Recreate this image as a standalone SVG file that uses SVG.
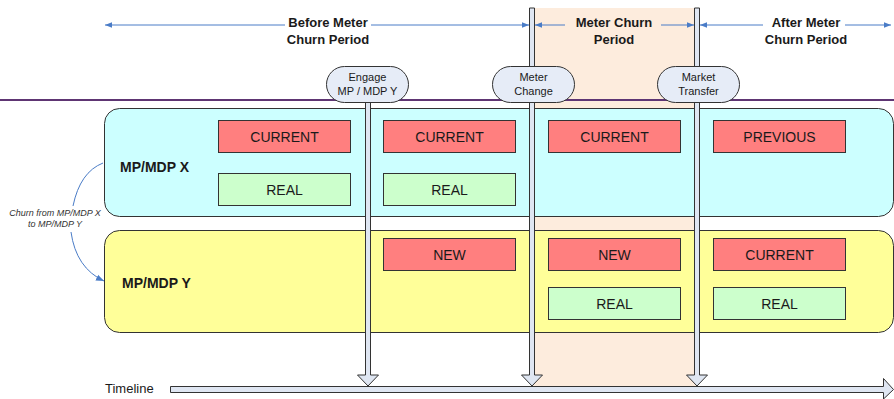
<svg xmlns="http://www.w3.org/2000/svg" width="894" height="399" viewBox="0 0 894 399">
<style>
text{font-family:"Liberation Sans",Arial,sans-serif;fill:#1a1a1a}
.hd{font-size:13px;font-weight:bold;text-anchor:middle}
.bx{font-size:14px;text-anchor:middle}
.lb{font-size:11px;text-anchor:middle}
.red{fill:#ff7f7f;stroke:#333;stroke-width:1}
.grn{fill:#ccffcc;stroke:#333;stroke-width:1}
.pole{fill:#dfe6f2;stroke:#333;stroke-width:1}
.stad{fill:#e6ecf7;stroke:#333;stroke-width:1}
.dim{stroke:#4a7cc7;stroke-width:1;fill:none}
</style>
<defs>
<marker id="ah" viewBox="0 0 10 10" refX="10" refY="5" markerWidth="7" markerHeight="7" orient="auto-start-reverse" markerUnits="userSpaceOnUse">
<path d="M0,1 L10,5 L0,9 z" fill="#4a7cc7"/>
</marker>
<marker id="ah2" viewBox="0 0 10 10" refX="10" refY="5" markerWidth="8" markerHeight="8" orient="auto" markerUnits="userSpaceOnUse">
<path d="M0,1 L10,5 L0,9 z" fill="#4a7cc7"/>
</marker>
</defs>
<rect width="894" height="399" fill="#fff"/>
<g id="churn-period-bg"><rect x="532" y="8" width="165" height="378" fill="#fdecdd"/></g>
<g id="divider"><line x1="0" y1="100" x2="894" y2="100" stroke="#5e3573" stroke-width="2"/></g>
<g id="mpx">
<rect x="104.5" y="108.5" width="789" height="108" rx="15" fill="#ccffff" stroke="#333"/>
<text x="120" y="172" style="font-size:14px;font-weight:bold">MP/MDP X</text>
</g>
<g id="mpy">
<rect x="104.5" y="230.5" width="789" height="102" rx="15" fill="#ffff99" stroke="#333"/>
<text x="122" y="288" style="font-size:14px;font-weight:bold">MP/MDP Y</text>
</g>
<g id="connectors">
<line class="dim" x1="105" y1="25" x2="285" y2="25" marker-start="url(#ah)"/>
<line class="dim" x1="371" y1="25" x2="529" y2="25" marker-end="url(#ah)"/>
<line class="dim" x1="535" y1="25" x2="565" y2="25" marker-start="url(#ah)"/>
<line class="dim" x1="661" y1="25" x2="694" y2="25" marker-end="url(#ah)"/>
<line class="dim" x1="700" y1="25" x2="763" y2="25" marker-start="url(#ah)"/>
<line class="dim" x1="845" y1="25" x2="891" y2="25" marker-end="url(#ah)"/>
<path class="dim" d="M103,163 Q80,172 73,206"/>
<path class="dim" d="M71,232 Q76,268 104,281" marker-end="url(#ah2)"/>
<path class="pole" d="M365.5,102 V375 H357.5 L368,386 L378.5,375 H370.5 V102 Z"/>
<path class="pole" d="M529.5,8 V375 H521.5 L532,386 L542.5,375 H534.5 V8 Z"/>
<path class="pole" d="M694.5,8 V375 H686.5 L697,386 L707.5,375 H699.5 V8 Z"/>
<path class="pole" d="M170.5,386.5 H883.5 V378.5 L893.5,389.5 L883.5,399 V392.5 H170.5 Z"/>
</g>
<g id="period-labels">
<text class="hd" x="328" y="27">Before Meter</text>
<text class="hd" x="328" y="44">Churn Period</text>
<text class="hd" x="614" y="27">Meter Churn</text>
<text class="hd" x="614" y="44">Period</text>
<text class="hd" x="806" y="27">After Meter</text>
<text class="hd" x="806" y="44">Churn Period</text>
</g>
<g id="engage">
<rect class="stad" x="326.5" y="66.5" width="82" height="36" rx="18"/>
<text class="lb" x="367.5" y="81">Engage</text>
<text class="lb" x="367.5" y="95">MP / MDP Y</text>
</g>
<g id="meter-change">
<rect class="stad" x="492.5" y="66.5" width="82" height="36" rx="18"/>
<text class="lb" x="533.5" y="81">Meter</text>
<text class="lb" x="533.5" y="95">Change</text>
</g>
<g id="market-transfer">
<rect class="stad" x="657.5" y="66.5" width="82" height="36" rx="18"/>
<text class="lb" x="698.5" y="81">Market</text>
<text class="lb" x="698.5" y="95">Transfer</text>
</g>
<g id="x-boxes">
<rect class="red" x="218.5" y="120.5" width="132" height="32"/><text class="bx" x="284.5" y="141.5">CURRENT</text>
<rect class="grn" x="218.5" y="173.5" width="132" height="32"/><text class="bx" x="284.5" y="194.5">REAL</text>
<rect class="red" x="383.5" y="120.5" width="132" height="32"/><text class="bx" x="449.5" y="141.5">CURRENT</text>
<rect class="grn" x="383.5" y="173.5" width="132" height="32"/><text class="bx" x="449.5" y="194.5">REAL</text>
<rect class="red" x="548.5" y="120.5" width="132" height="32"/><text class="bx" x="614.5" y="141.5">CURRENT</text>
<rect class="red" x="713.5" y="120.5" width="132" height="32"/><text class="bx" x="779.5" y="141.5">PREVIOUS</text>
</g>
<g id="y-boxes">
<rect class="red" x="383.5" y="238.5" width="132" height="32"/><text class="bx" x="449.5" y="259.5">NEW</text>
<rect class="red" x="548.5" y="238.5" width="132" height="32"/><text class="bx" x="614.5" y="259.5">NEW</text>
<rect class="grn" x="548.5" y="287.5" width="132" height="32"/><text class="bx" x="614.5" y="308.5">REAL</text>
<rect class="red" x="713.5" y="238.5" width="132" height="32"/><text class="bx" x="779.5" y="259.5">CURRENT</text>
<rect class="grn" x="713.5" y="287.5" width="132" height="32"/><text class="bx" x="779.5" y="308.5">REAL</text>
</g>
<g id="churn-label">
<text x="55" y="216" style="font-size:9px;font-style:italic;text-anchor:middle;fill:#333">Churn from MP/MDP X</text>
<text x="55" y="227" style="font-size:9px;font-style:italic;text-anchor:middle;fill:#333">to MP/MDP Y</text>
</g>
<g id="timeline-label"><text x="105" y="393" style="font-size:13px">Timeline</text></g>
</svg>
